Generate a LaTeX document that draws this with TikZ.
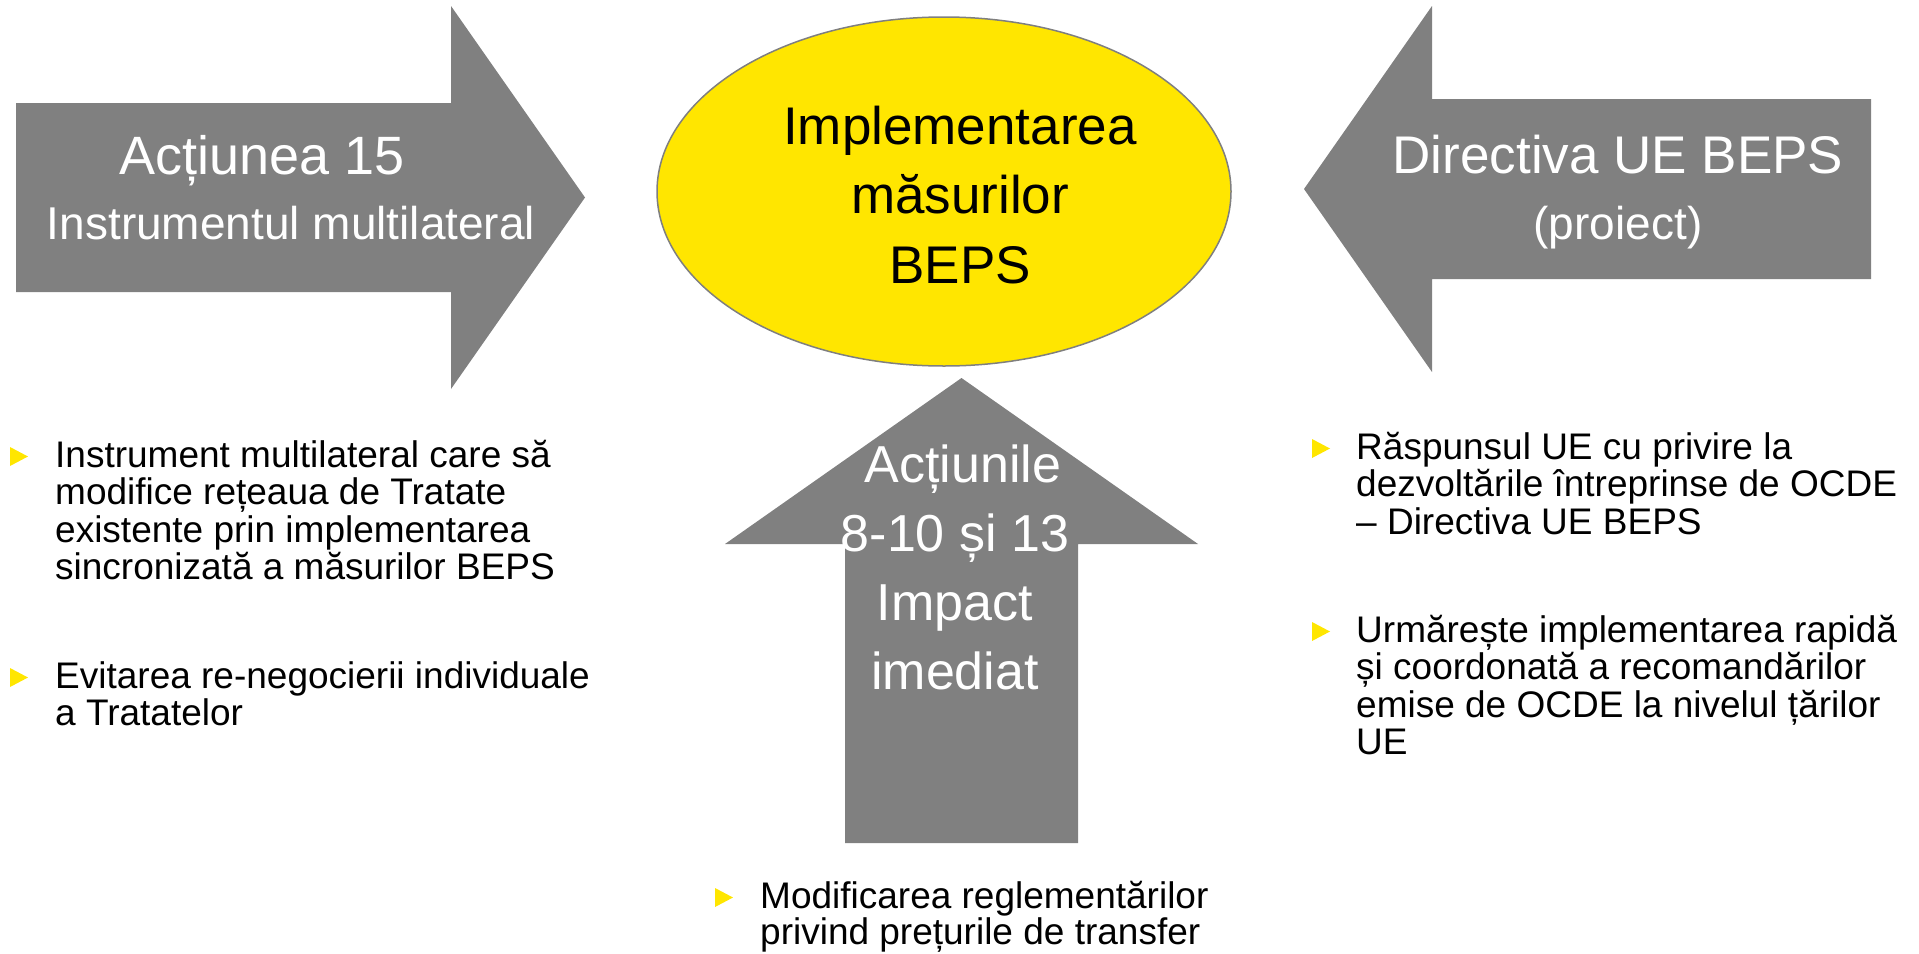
\documentclass[tikz,border=0pt]{standalone}
\usepackage{fontspec}
\setmainfont{Liberation Sans}
\definecolor{eygray}{HTML}{808080}
\definecolor{eyyellow}{HTML}{FFE600}
\definecolor{rimgray}{HTML}{7F7F7F}
\tikzset{
  bigarrow/.style={fill=eygray},
  centerellipse/.style={draw=rimgray, line width=1.5pt, fill=eyyellow},
  arrowtext/.style={text=white, inner sep=0pt, anchor=base},
  ellipsetext/.style={text=black, inner sep=0pt, anchor=base},
  bullettext/.style={text=black, inner sep=0pt, anchor=base west},
  bulletmark/.style={fill=eyyellow},
}
\newcommand{\ybullet}[2]{\fill[bulletmark] (#1,#2-20) -- (#1+18,#2-10.5) -- (#1,#2-1) -- cycle;}
\begin{document}
\begin{tikzpicture}[x=1pt,y=-1pt]
\useasboundingbox (0,0) rectangle (1919,953);
% left arrow
\fill[bigarrow] (16,103) -- (451,103) -- (451,6) -- (585,197.5) -- (451,389) -- (451,292) -- (16,292) -- cycle;
% right arrow
\fill[bigarrow] (1871,99) -- (1432,99) -- (1432,6) -- (1304,189) -- (1432,372) -- (1432,279) -- (1871,279) -- cycle;
% up arrow
\fill[bigarrow] (845,843) -- (845,544) -- (725,544) -- (961.5,378) -- (1198,544) -- (1078,544) -- (1078,843) -- cycle;
% ellipse
\draw[centerellipse] (944,191.5) ellipse [x radius=287, y radius=174.5];

\node[arrowtext] (a15) at (291,174) {\parbox[t]{560pt}{\centering\fontsize{54}{54}\selectfont Acțiunea 15\hspace*{58pt}\par\fontsize{46}{65}\selectfont Instrumentul multilateral\par}};
\node[arrowtext] (dir) at (1618,173) {\parbox[t]{560pt}{\centering\fontsize{53}{53}\selectfont Directiva UE BEPS\par\fontsize{46}{66}\selectfont (proiect)\par}};
\node[ellipsetext] (impl) at (960,144) {\parbox[t]{500pt}{\centering\fontsize{53}{69.5}\selectfont Implementarea\\ măsurilor\\ BEPS}};
\node[arrowtext] (act) at (955,482) {\parbox[t]{500pt}{\centering\fontsize{52}{69}\selectfont \hspace*{16pt}Acțiunile\\ 8-10 și 13\\ Impact\\ imediat}};

% left bullets
\ybullet{10}{467}
\node[bullettext] (l1) at (55,467) {\parbox[t]{600pt}{\raggedright\fontsize{37}{37.5}\selectfont Instrument multilateral care să\\ modifice rețeaua de Tratate\\ existente prin implementarea\\ sincronizată a măsurilor BEPS}};
\ybullet{10}{688}
\node[bullettext] (l2) at (55,688) {\parbox[t]{600pt}{\raggedright\fontsize{37}{37.5}\selectfont Evitarea re-negocierii individuale\\ a Tratatelor}};
% right bullets
\ybullet{1312}{459}
\node[bullettext] (r1) at (1356,459) {\parbox[t]{600pt}{\raggedright\fontsize{37}{37.5}\selectfont Răspunsul UE cu privire la\\ dezvoltările întreprinse de OCDE\\ – Directiva UE BEPS}};
\ybullet{1312}{642}
\node[bullettext] (r2) at (1356,642) {\parbox[t]{600pt}{\raggedright\fontsize{37}{37.5}\selectfont Urmărește implementarea rapidă\\ și coordonată a recomandărilor\\ emise de OCDE la nivelul țărilor\\ UE}};
% bottom bullet
\ybullet{715}{908}
\node[bullettext] (b1) at (760,908) {\parbox[t]{600pt}{\raggedright\fontsize{37}{36}\selectfont Modificarea reglementărilor\\ privind prețurile de transfer}};
\end{tikzpicture}
\end{document}
